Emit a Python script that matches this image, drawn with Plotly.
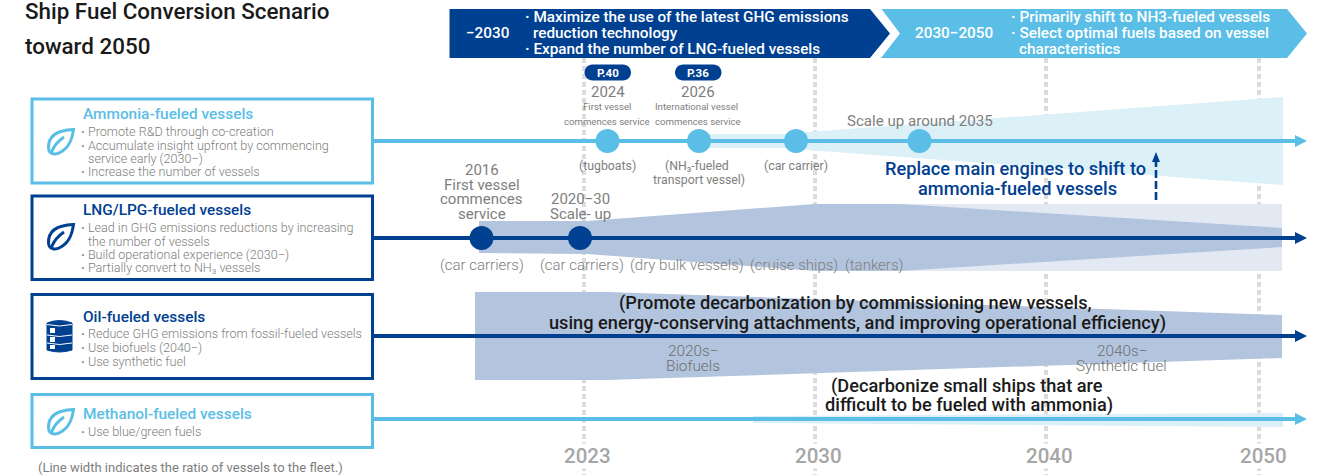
import plotly.graph_objects as go

# Palette
NAVY = "#004091"
SKY = "#5ABEE6"
NAVY_BAND = "#B3C5DE"
NAVY_BAND_PALE = "#E2E9F3"
SKY_BAND = "#DCF0F8"
GREY = "#7e7e7e"
GRID = "#DCDCDC"
INK = "#1a1a1a"

# Text content
TITLE_LINES = ["Ship Fuel Conversion Scenario", "toward 2050"]
FOOTNOTE = "(Line width indicates the ratio of vessels to the fleet.)"
YEARS = ["2023", "2030", "2040", "2050"]

AMMONIA_HEAD = "Ammonia-fueled vessels"
AMMONIA_BODY = ["· Promote R&D through co-creation",
                "· Accumulate insight upfront by commencing",
                "service early (2030−)",
                "· Increase the number of vessels"]
LNG_HEAD = "LNG/LPG-fueled vessels"
LNG_BODY = ["· Lead in GHG emissions reductions by increasing",
            "the number of vessels",
            "· Build operational experience (2030−)",
            "· Partially convert to NH₃ vessels"]
OIL_HEAD = "Oil-fueled vessels"
OIL_BODY = ["· Reduce GHG emissions from fossil-fueled vessels",
            "· Use biofuels (2040−)",
            "· Use synthetic fuel"]
METHANOL_HEAD = "Methanol-fueled vessels"
METHANOL_BODY = ["· Use blue/green fuels"]

PHASE_1_YEARS = "−2030"
PHASE_1_POINTS = ["· Maximize the use of the latest GHG emissions",
                  "reduction technology",
                  "· Expand the number of LNG-fueled vessels"]
PHASE_2_YEARS = "2030−2050"
PHASE_2_POINTS = ["· Primarily shift to NH3-fueled vessels",
                  "· Select optimal fuels based on vessel",
                  "characteristics"]

# Timeline geometry on the canvas scale
GRID_X = [584, 815, 1046, 1259]
YEAR_LABEL_X = [587.5, 818.5, 1049.5, 1263]

AMMONIA_ROW_Y = 141
LNG_ROW_Y = 238
OIL_ROW_Y = 336
METHANOL_ROW_Y = 419

AMMONIA_MILESTONES_X = [607.5, 699, 796, 919.5]
LNG_MILESTONES_X = [481.5, 580]

AMMONIA_BAND_X = [699, 796, 807, 1283, 1283, 807, 796, 699]
AMMONIA_BAND_Y = [134, 134, 132, 97, 185, 150, 148, 148]
LNG_PALE_BAND_X = [815, 1282, 1282, 815]
LNG_PALE_BAND_Y = [204, 204, 271, 271]
LNG_BAND_X = [479, 587, 815, 900, 1282, 1282, 900, 815, 587, 479]
LNG_BAND_Y = [221, 221, 204, 204, 228, 247, 271, 271, 254, 253]
OIL_BAND_X = [475, 607, 1282, 1282, 607, 475]
OIL_BAND_Y = [292, 292, 315, 358, 380, 380]
METHANOL_BAND_X = [753, 1283, 1283, 753]
METHANOL_BAND_Y = [416, 413, 427, 423]

PHASE_1_X = [449.5, 870, 890, 870, 449.5]
PHASE_2_X = [881.5, 1287, 1307, 1287, 881, 900]
PHASE_Y_5 = [9, 9, 33.5, 58, 58]
PHASE_Y_6 = [9, 9, 33.5, 58, 58, 33.5]

fig = go.Figure()


def polygon(xs, ys, color):
    fig.add_trace(go.Scatter(x=xs, y=ys, mode="lines", fill="toself", fillcolor=color,
                             line=dict(width=0, color=color), hoverinfo="skip"))


def label(text, x, y, size, color=GREY, weight=400, anchor="center"):
    fig.add_annotation(x=x, y=y, text=text, showarrow=False, xanchor=anchor, yanchor="middle",
                       align=anchor, borderpad=0, borderwidth=0,
                       font=dict(family="Roboto", size=size, color=color, weight=weight))


def bullets(lines, ys, x, indent, size, color, weight):
    # A line without a leading dot continues the previous point, so it sits at the text edge.
    for text, y in zip(lines, ys):
        if text.startswith("·"):
            label("<b>·</b>" + text[1:], x, y, size, color, weight, "left")
        else:
            label(text, x + indent, y, size, color, weight, "left")


# Dotted year guides
for gx in GRID_X:
    fig.add_trace(go.Scatter(x=[gx, gx], y=[58, 475], mode="lines", hoverinfo="skip",
                             line=dict(color=GRID, width=4, dash="5px,3px")))

# Phase chevrons
polygon(PHASE_1_X, PHASE_Y_5, NAVY)
polygon(PHASE_2_X, PHASE_Y_6, SKY)

# Fleet-share bands
polygon(AMMONIA_BAND_X, AMMONIA_BAND_Y, SKY_BAND)
polygon(LNG_PALE_BAND_X, LNG_PALE_BAND_Y, NAVY_BAND_PALE)
polygon(LNG_BAND_X, LNG_BAND_Y, NAVY_BAND)
polygon(OIL_BAND_X, OIL_BAND_Y, NAVY_BAND)
polygon(METHANOL_BAND_X, METHANOL_BAND_Y, SKY_BAND)

# Fuel rows: connector line, arrow head and the card around the description
ROWS = [(AMMONIA_ROW_Y, SKY, 99, 183),
        (LNG_ROW_Y, NAVY, 196, 279.5),
        (OIL_ROW_Y, NAVY, 294.5, 378.5),
        (METHANOL_ROW_Y, SKY, 394.5, 447.5)]
for row_y, color, top, bottom in ROWS:
    fig.add_trace(go.Scatter(x=[373, 1297], y=[row_y, row_y], mode="lines", hoverinfo="skip",
                             line=dict(color=color, width=4)))
    polygon([1295, 1307, 1295], [row_y - 6, row_y, row_y + 6], color)
    fig.add_shape(type="rect", x0=32, x1=372.5, y0=top, y1=bottom,
                  line=dict(color=color, width=3), fillcolor="white", layer="above")

# Milestones
fig.add_trace(go.Scatter(x=AMMONIA_MILESTONES_X, y=[AMMONIA_ROW_Y] * len(AMMONIA_MILESTONES_X),
                         mode="markers", hoverinfo="skip",
                         marker=dict(color=SKY, size=24, line=dict(width=0))))
fig.add_trace(go.Scatter(x=LNG_MILESTONES_X, y=[LNG_ROW_Y] * len(LNG_MILESTONES_X),
                         mode="markers", hoverinfo="skip",
                         marker=dict(color=NAVY, size=24, line=dict(width=0))))

# Dashed arrow from LNG toward ammonia
fig.add_trace(go.Scatter(x=[1156, 1156], y=[200, 159], mode="lines", hoverinfo="skip",
                         line=dict(color=NAVY, width=2.6, dash="8px,3px")))
polygon([1152, 1156, 1160], [162, 152, 162], NAVY)


# Icons
def leaf(color, dy):
    outline = (f"M 73.5 {129.5 + dy} C 60 {130 + dy} 48 {134 + dy} 48.5 {148 + dy} "
               f"C 49 {155 + dy} 56 {155 + dy} 60 {152.5 + dy} C 69 {148 + dy} 72 {140 + dy} 73.5 {129.5 + dy} Z")
    vein = f"M 51.5 {152 + dy} C 54 {146 + dy} 58 {141 + dy} 64 {137 + dy}"
    for path in (outline, vein):
        fig.add_shape(type="path", path=path, line=dict(color=color, width=3), layer="above")


leaf(SKY, 0)
leaf(NAVY, 95)
leaf(SKY, 280)

fig.add_shape(type="path", layer="above", fillcolor=NAVY, line=dict(color=NAVY, width=1),
              path="M 47 323 Q 59.5 318 72 323 L 72 350 Q 59.5 354 47 350 Z")
for top, height in ((328, 5), (337, 5), (345, 4)):
    fig.add_shape(type="rect", x0=50, x1=55, y0=top, y1=top + height, layer="above",
                  fillcolor="white", line=dict(width=0))
for hoop in (325.5, 336, 344):
    fig.add_shape(type="path", layer="above", line=dict(color="white", width=1),
                  path=f"M 47 {hoop - 1} Q 59.5 {hoop + 2} 72 {hoop - 1}")


# Page badges
def pill(x0, x1, y0, y1):
    r = (y1 - y0) / 2
    k = r * 0.55
    fig.add_shape(type="path", layer="above", fillcolor=NAVY, line=dict(width=0),
                  path=f"M {x0 + r} {y0} L {x1 - r} {y0} "
                       f"C {x1 - r + k} {y0} {x1} {y0 + r - k} {x1} {y0 + r} "
                       f"C {x1} {y1 - r + k} {x1 - r + k} {y1} {x1 - r} {y1} "
                       f"L {x0 + r} {y1} "
                       f"C {x0 + r - k} {y1} {x0} {y1 - r + k} {x0} {y0 + r} "
                       f"C {x0} {y0 + r - k} {x0 + r - k} {y0} {x0 + r} {y0} Z")


pill(584.5, 631, 64.5, 80.5)
pill(675, 721.5, 64.5, 80.5)

# Title and footnote
label(TITLE_LINES[0], 25, 10.5, 22.4, INK, 500, "left")
label(TITLE_LINES[1], 25, 46, 22.4, INK, 500, "left")
label(FOOTNOTE, 38, 467, 13, GREY, 400, "left")

# Phase text
label(PHASE_1_YEARS, 487.5, 33, 15.3, "white", 500)
bullets(PHASE_1_POINTS, (17, 33, 49), 525, 8, 15.3, "white", 500)
label(PHASE_2_YEARS, 954, 33, 15.3, "white", 500)
bullets(PHASE_2_POINTS, (17, 33, 49), 1010.5, 8, 15.3, "white", 500)

# Card text
for head, body, head_y, body_y, color in [
    (AMMONIA_HEAD, AMMONIA_BODY, 114, (131.5, 145.5, 158.5, 171.5), SKY),
    (LNG_HEAD, LNG_BODY, 210, (227.5, 241.5, 254.5, 267.5), NAVY),
    (OIL_HEAD, OIL_BODY, 317, (333.5, 347.5, 361.5), NAVY),
    (METHANOL_HEAD, METHANOL_BODY, 414, (431.5,), SKY),
]:
    label(head, 83, head_y, 15.4, color, 500, "left")
    bullets(body, body_y, 81, 6.5, 12.6, GREY, 300)

# Ammonia milestones
label("P.40", 607.5, 73, 11.5, "white", 700)
label("P.36", 698, 73, 11.5, "white", 700)
label("2024", 607.5, 92, 15)
label("2026", 698, 92, 15)
label("First vessel", 606.5, 106, 9.6)
label("commences service", 607, 121, 9.6)
label("International vessel", 696.5, 106, 9.6)
label("commences service", 698, 121, 9.6)
label("(tugboats)", 607.5, 166, 12.3)
label("(NH₃-fueled", 697, 166, 12.3)
label("transport vessel)", 699, 180, 12.3)
label("(car carrier)", 796, 166, 12.3)
label("Scale up around 2035", 920, 121, 15.1)
label("Replace main engines to shift to", 1015, 168, 18.2, NAVY, 500)
label("ammonia-fueled vessels", 1017.5, 188, 18.2, NAVY, 500)

# LNG milestones
for text, y in zip(("2016", "First vessel", "commences", "service"), (170, 185, 199, 214)):
    label(text, 481.5, y, 15)
label("2020−30", 580, 199, 15)
label("Scale- up", 580, 214, 15)
for text, x in zip(("(car carriers)", "(car carriers)", "(dry bulk vessels)", "(cruise ships)", "(tankers)"),
                   (481.5, 581.5, 686.5, 794, 873.5)):
    label(text, x, 265, 15, GREY, 300)

# Oil and methanol notes
label("(Promote decarbonization by commissioning new vessels,", 855.5, 303, 18.2, INK, 500)
label("using energy-conserving attachments, and improving operational efficiency)", 857.5, 323, 18.2, INK, 500)
label("2020s−", 693, 351, 15.3, "#6f6f6f", 300)
label("Biofuels", 693, 366, 15.3, "#6f6f6f", 300)
label("2040s−", 1121.5, 351, 15.3, "#6f6f6f", 300)
label("Synthetic fuel", 1121.5, 366, 15.3, "#6f6f6f", 300)
label("(Decarbonize small ships that are", 967, 386, 18.2, INK, 500)
label("difficult to be fueled with ammonia)", 969, 405, 18.2, INK, 500)

# Year scale; the white backing interrupts the guide behind each label
for text, x in zip(YEARS, YEAR_LABEL_X):
    fig.add_annotation(x=x, y=456, text=text, showarrow=False, bgcolor="white", borderpad=0,
                       font=dict(family="Roboto", size=20.5, color="#a6a6a6", weight=500))

fig.update_layout(
    width=1326, height=475, margin=dict(l=0, r=0, t=0, b=0),
    paper_bgcolor="white", plot_bgcolor="white", showlegend=False,
    xaxis=dict(range=[0, 1326], visible=False, fixedrange=True),
    yaxis=dict(range=[475, 0], visible=False, fixedrange=True),
)

fig.write_html("out.html", config=dict(displayModeBar=False))
